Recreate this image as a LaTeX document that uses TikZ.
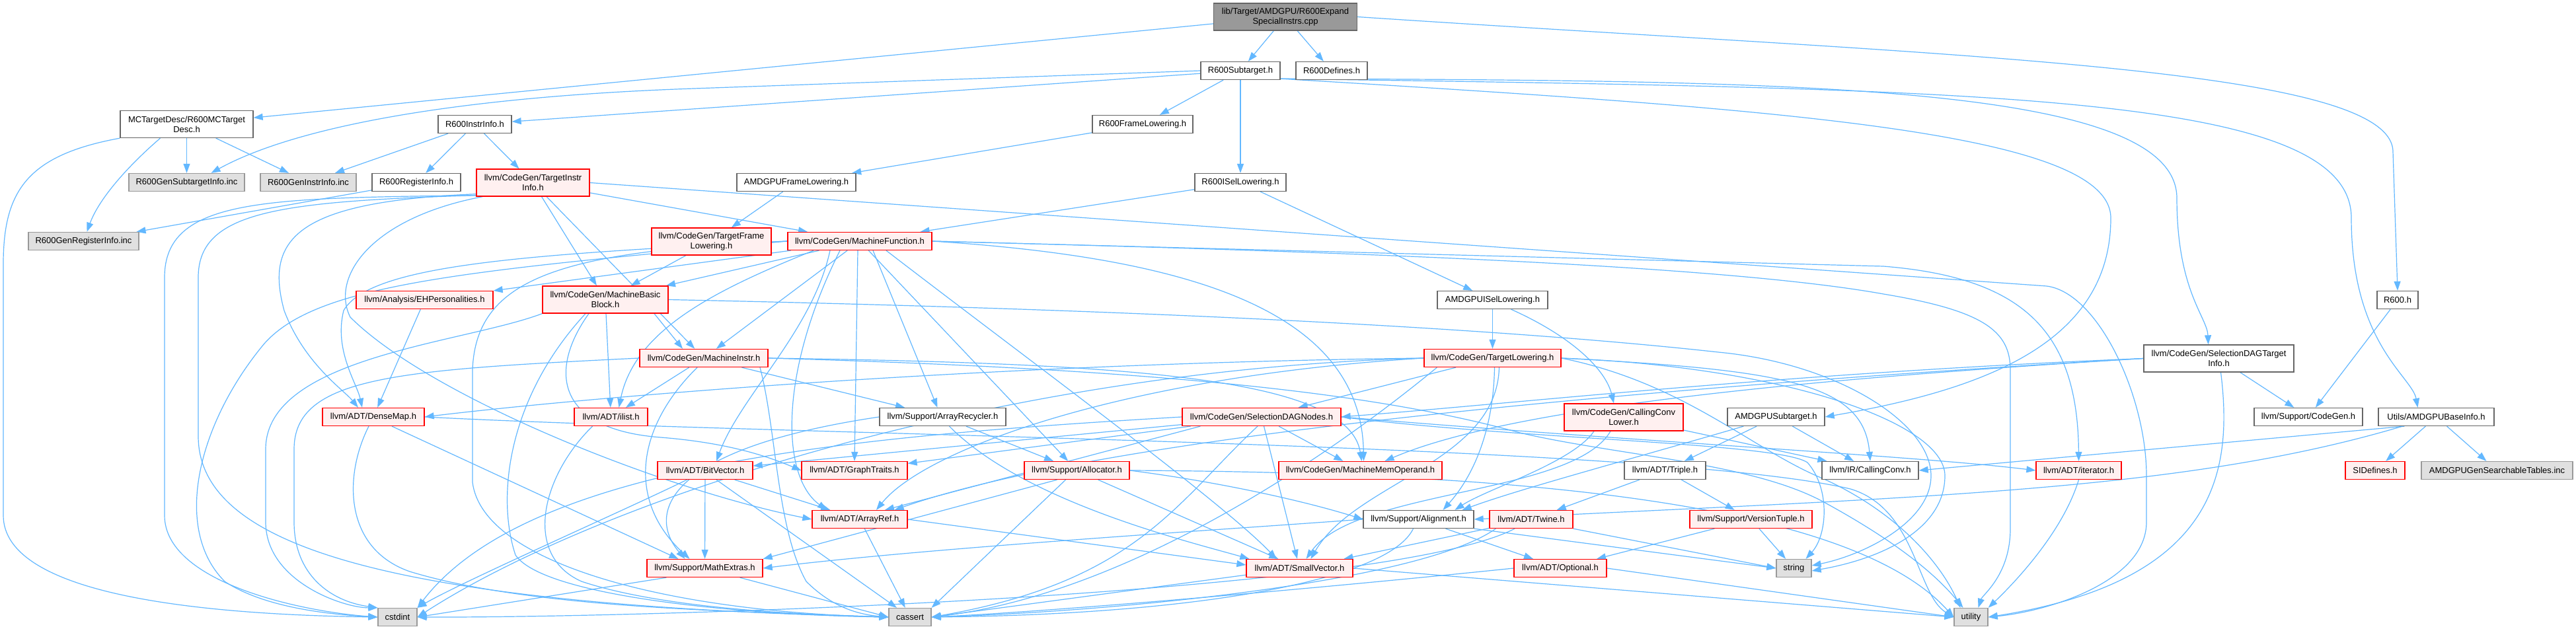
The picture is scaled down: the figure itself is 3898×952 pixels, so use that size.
\documentclass[tikz,border=0pt]{standalone}
\usepackage{fontspec}
\setmainfont{Liberation Sans}
\usetikzlibrary{arrows.meta,calc}
\definecolor{edgeblue}{HTML}{63B8FF}
\definecolor{redfill}{HTML}{FFF0F0}
\definecolor{reddraw}{HTML}{FF0000}
\definecolor{leaffill}{HTML}{E0E0E0}
\definecolor{leafdraw}{HTML}{999999}
\definecolor{whitedraw}{HTML}{666666}
\definecolor{srcfill}{HTML}{999999}
\definecolor{srcdraw}{HTML}{666666}
\newcommand\nodefont{\fontsize{13}{15}\selectfont}
\pgfdeclarelayer{bg}
\pgfsetlayers{bg,main}
\tikzset{
  nbase/.style={draw, line width=1.3pt, minimum height=27pt, inner xsep=2pt, inner ysep=0pt, font=\nodefont, align=center, anchor=center, text=black},
  srcbox/.style={nbase, fill=srcfill, draw=srcdraw},
  wbox/.style={nbase, fill=white, draw=whitedraw},
  rbox/.style={nbase, fill=redfill, draw=reddraw},
  gbox/.style={nbase, fill=leaffill, draw=leafdraw},
  twoline/.style={minimum height=41pt},
  conn/.style={draw=edgeblue, line width=1.2pt, -{Triangle[length=14pt,width=10pt]}}
}
\begin{document}
\begin{tikzpicture}[x=1pt,y=-1pt]
\useasboundingbox (0,0) rectangle (3898,952);
% nodes
\node[srcbox, twoline, minimum width=217pt] (n0) at (1945,25.5) {lib/Target/AMDGPU/R600Expand\\SpecialInstrs.cpp};
\node[wbox, minimum width=120pt] (n1) at (1877,107) {R600Subtarget.h};
\node[wbox, minimum width=108pt] (n2) at (2015,107) {R600Defines.h};
\node[wbox, twoline, minimum width=201pt] (n3) at (282.5,188) {MCTargetDesc/R600MCTarget\\Desc.h};
\node[wbox, minimum width=111pt] (n4) at (718.5,188) {R600InstrInfo.h};
\node[wbox, minimum width=152pt] (n5) at (1729,188) {R600FrameLowering.h};
\node[gbox, minimum width=175pt] (n6) at (282.5,276) {R600GenSubtargetInfo.inc};
\node[gbox, minimum width=145pt] (n7) at (466.5,276) {R600GenInstrInfo.inc};
\node[wbox, minimum width=134pt] (n8) at (630,276) {R600RegisterInfo.h};
\node[rbox, twoline, minimum width=171pt] (n9) at (806.5,276.5) {llvm/CodeGen/TargetInstr\\Info.h};
\node[wbox, minimum width=180pt] (n10) at (1205,276) {AMDGPUFrameLowering.h};
\node[wbox, minimum width=138pt] (n11) at (1877,276) {R600ISelLowering.h};
\node[gbox, minimum width=167pt] (n12) at (126.5,365) {R600GenRegisterInfo.inc};
\node[rbox, twoline, minimum width=181pt] (n13) at (1076.5,365.5) {llvm/CodeGen/TargetFrame\\Lowering.h};
\node[rbox, minimum width=218pt] (n14) at (1301,365) {llvm/CodeGen/MachineFunction.h};
\node[rbox, minimum width=207pt] (n15) at (642.5,454) {llvm/Analysis/EHPersonalities.h};
\node[rbox, twoline, minimum width=190pt] (n16) at (916,453.5) {llvm/CodeGen/MachineBasic\\Block.h};
\node[wbox, minimum width=167pt] (n17) at (2258.5,454) {AMDGPUISelLowering.h};
\node[wbox, minimum width=62pt] (n18) at (3628,454) {R600.h};
\node[wbox, twoline, minimum width=227pt] (n19) at (3357.5,542.5) {llvm/CodeGen/SelectionDAGTarget\\Info.h};
\node[rbox, minimum width=194pt] (n20) at (1065,542) {llvm/CodeGen/MachineInstr.h};
\node[rbox, minimum width=207pt] (n21) at (2258.5,542) {llvm/CodeGen/TargetLowering.h};
\node[rbox, minimum width=154pt] (n22) at (565,631) {llvm/ADT/DenseMap.h};
\node[rbox, minimum width=111pt] (n23) at (924.5,631) {llvm/ADT/ilist.h};
\node[wbox, minimum width=191pt] (n24) at (1426.5,631) {llvm/Support/ArrayRecycler.h};
\node[rbox, minimum width=240pt] (n25) at (1909,631) {llvm/CodeGen/SelectionDAGNodes.h};
\node[rbox, twoline, minimum width=180pt] (n26) at (2457,631.5) {llvm/CodeGen/CallingConv\\Lower.h};
\node[wbox, minimum width=147pt] (n27) at (2687.5,631) {AMDGPUSubtarget.h};
\node[wbox, minimum width=164pt] (n28) at (3493,631) {llvm/Support/CodeGen.h};
\node[wbox, minimum width=175pt] (n29) at (3686.5,631) {Utils/AMDGPUBaseInfo.h};
\node[rbox, minimum width=144pt] (n30) at (1067,712) {llvm/ADT/BitVector.h};
\node[rbox, minimum width=160pt] (n31) at (1293,712) {llvm/ADT/GraphTraits.h};
\node[rbox, minimum width=159pt] (n32) at (1629.5,712) {llvm/Support/Allocator.h};
\node[rbox, minimum width=247pt] (n33) at (2058.5,712) {llvm/CodeGen/MachineMemOperand.h};
\node[wbox, minimum width=123pt] (n34) at (2519.5,712) {llvm/ADT/Triple.h};
\node[wbox, minimum width=146pt] (n35) at (2830,712) {llvm/IR/CallingConv.h};
\node[rbox, minimum width=129pt] (n36) at (3145.5,712) {llvm/ADT/iterator.h};
\node[rbox, minimum width=90pt] (n37) at (3594,712) {SIDefines.h};
\node[gbox, minimum width=229pt] (n38) at (3778.5,712) {AMDGPUGenSearchableTables.inc};
\node[rbox, minimum width=144pt] (n39) at (1301,786) {llvm/ADT/ArrayRef.h};
\node[wbox, minimum width=167pt] (n40) at (2146.5,786) {llvm/Support/Alignment.h};
\node[rbox, minimum width=126pt] (n41) at (2317,786) {llvm/ADT/Twine.h};
\node[rbox, minimum width=185pt] (n42) at (2649.5,786) {llvm/Support/VersionTuple.h};
\node[rbox, minimum width=175pt] (n43) at (1066.5,860) {llvm/Support/MathExtras.h};
\node[rbox, minimum width=161pt] (n44) at (1966.5,860) {llvm/ADT/SmallVector.h};
\node[rbox, minimum width=140pt] (n45) at (2361,860) {llvm/ADT/Optional.h};
\node[gbox, minimum width=53pt] (n46) at (2714.5,860) {string};
\node[gbox, minimum width=59pt] (n47) at (601.5,934) {cstdint};
\node[gbox, minimum width=64pt] (n48) at (1377,934) {cassert};
\node[gbox, minimum width=51pt] (n49) at (2982.5,934) {utility};

\begin{pgfonlayer}{bg}
\fill[white] (0,0) rectangle (3898,952);
% source file
\draw[conn] (n0) -- (n3);
\draw[conn] (n0) -- (n1);
\draw[conn] (n0) -- (n2);
\draw[conn] (n0.east) .. controls (2950,85) and (3621,100) .. (3621,230) -- (n18.north);
% R600Subtarget
\draw[conn] (n1.west) -- (1050,134) .. controls (700,146) and (450,190) .. ($(n6.north)+(37,0)$);
\draw[conn] (n1) -- (n4);
\draw[conn] (n1) -- (n5);
\draw[conn] (n1) -- (n11);
\draw[conn] ($(n1.south east)+(0,-2)$) .. controls (2700,165) and (3194,200) .. (3194,330) .. controls (3194,520) and (3000,590) .. (n27.east);
\draw[conn] ($(n1.south east)+(0,-2)$) .. controls (2700,122) and (3294,125) .. (3294,300) .. controls (3294,440) and (3340,480) .. ($(n19.north)+(-16,0)$);
\draw[conn] ($(n1.south east)+(0,-2)$) .. controls (3000,135) and (3558,140) .. (3558,330) .. controls (3558,520) and (3650,570) .. ($(n29.north)+(-28,0)$);
% MCTargetDesc
\draw[conn] (n3) -- (n6);
\draw[conn] (n3) -- (n7);
\draw[conn] ($(n3.south)+(-40,0)$) .. controls (195,250) and (150,300) .. ($(n12.north)+(5,0)$);
\draw[conn] (n3.south west) .. controls (40,235) and (5,290) .. (5,400) -- (5,780) .. controls (5,900) and (300,930) .. (n47.west);
% R600InstrInfo
\draw[conn] (n4) -- (n7);
\draw[conn] (n4) -- (n8);
\draw[conn] (n4) -- (n9);
\draw[conn] (n8) -- (n12);
% frame lowering / isel lowering
\draw[conn] (n5) -- (n10);
\draw[conn] (n10) -- (n13);
\draw[conn] (n13) -- (n16);
\draw[conn] (n11) -- (n14);
\draw[conn] (n11) -- (n17);
\draw[conn] (n17) -- (n21);
\draw[conn] ($(n17.south)+(28,0)$) .. controls (2380,510) and (2430,560) .. ($(n26.north)+(-15,0)$);
% TargetInstrInfo
\draw[conn] (n9) -- (n16);
\draw[conn] (n9) -- (n20);
\draw[conn] (n9) -- (n14);
\draw[conn] (n9.east) -- (3097,433) .. controls (3175,443) and (3248,600) .. (3248,720) -- (3248,790) .. controls (3248,880) and (3100,925) .. (n49.east);
\draw[conn] ($(n9.south west)+(0,-4)$) .. controls (450,305) and (400,360) .. (430,470) .. controls (460,550) and (520,590) .. ($(n22.north)+(-23,0)$);
\draw[conn] ($(n9.south west)+(0,-2)$) .. controls (400,300) and (249,300) .. (249,420) -- (249,780) .. controls (249,880) and (450,925) .. (n47.west);
\draw[conn] ($(n9.south west)+(0,-2)$) .. controls (420,305) and (300,320) .. (300,420) -- (300,660) .. controls (300,830) and (600,915) .. (n48.west);
\draw[conn] ($(n9.south west)+(10,0)$) .. controls (560,330) and (500,420) .. (530,480) .. controls (650,600) and (1000,740) .. (n39.west);
% MachineFunction
\draw[conn] (n14) -- (n16);
\draw[conn] (n14) -- (n15);
\draw[conn] (n14) -- (n20);
\draw[conn] ($(n14.south)+(-70,0)$) .. controls (1080,440) and (960,500) .. ($(n23.north)+(12,0)$);
\draw[conn] (n14.west) .. controls (800,385) and (560,400) .. (520,470) .. controls (505,530) and (540,580) .. ($(n22.north)+(-17,0)$);
\draw[conn] (n14.west) .. controls (700,410) and (480,430) .. (400,520) .. controls (300,640) and (260,800) .. (340,880) .. controls (400,920) and (500,930) .. (n47.west);
\draw[conn] ($(n14.south)+(-45,0)$) .. controls (1230,500) and (1120,600) .. ($(n30.north)+(17,0)$);
\draw[conn] ($(n14.south)+(-30,0)$) .. controls (1180,560) and (1180,720) .. ($(n39.north)+(-50,0)$);
\draw[conn] ($(n14.south)+(-3,0)$) -- (n31.north);
\draw[conn] ($(n14.south)+(20,0)$) -- ($(n24.north)+(-8,0)$);
\draw[conn] (n14) -- (n32);
\draw[conn] ($(n14.south)+(40,0)$) .. controls (1550,540) and (1850,760) .. ($(n44.north)+(-35,0)$);
\draw[conn] (n14.east) .. controls (1800,390) and (2060,470) .. ($(n33.north)+(5,0)$);
\draw[conn] (n14.east) -- (2850,403) .. controls (3060,420) and (3144,500) .. (n36.north);
\draw[conn] (n14.east) .. controls (2000,380) and (2600,400) .. (2850,445) .. controls (3000,470) and (3042,500) .. (3042,560) -- (3042,800) .. controls (3042,870) and (3000,900) .. ($(n49.north)+(11,0)$);
\draw[conn] (n14.west) .. controls (850,380) and (720,420) .. (715,560) -- (715,730) .. controls (730,850) and (1000,925) .. (n48.west);
% MachineBasicBlock
\draw[conn] ($(n16.south)+(74,0)$) -- ($(n20.north)+(-32,0)$);
\draw[conn] (n16) -- (n23);
\draw[conn] ($(n16.south)+(-25,0)$) .. controls (830,560) and (840,650) .. (1000,662) .. controls (1100,670) and (1160,690) .. (n31.west);
\draw[conn] (n16.south west) .. controls (700,520) and (402,540) .. (402,680) -- (402,790) .. controls (402,880) and (520,920) .. (n47.north west);
\draw[conn] ($(n16.south)+(-30,0)$) .. controls (770,600) and (750,750) .. (780,840) .. controls (820,900) and (1100,930) .. (n48.west);
\draw[conn] (n16.east) .. controls (1800,470) and (2300,500) .. (2600,533) .. controls (2780,550) and (2922,640) .. (2922,720) .. controls (2922,790) and (2820,840) .. ($(n46.east)+(0,-4)$);
% MachineInstr
\draw[conn] (n20) -- (n23);
\draw[conn] (n20) -- (n24);
\draw[conn] (n20.east) .. controls (1700,550) and (2040,570) .. ($(n33.north)+(2,0)$);
\draw[conn] ($(n20.south)+(-10,0)$) .. controls (960,650) and (950,760) .. ($(n43.north)+(-23,0)$);
\draw[conn] (n20.west) .. controls (600,560) and (445,570) .. (445,680) -- (445,790) .. controls (445,870) and (500,910) .. (n47.north west);
\draw[conn] ($(n20.south)+(85,0)$) .. controls (1175,650) and (1175,800) .. (1220,880) .. controls (1260,920) and (1300,930) .. (n48.west);
\draw[conn] (n20.east) .. controls (1800,560) and (2100,600) .. (2300,655) .. controls (2450,690) and (2650,700) .. (2760,760) .. controls (2870,820) and (2930,870) .. ($(n49.north)+(-12,0)$);
% EHPersonalities
\draw[conn] (n15) -- (n22);
% DenseMap
\draw[conn] ($(n22.south)+(28,0)$) -- ($(n43.north)+(-40,0)$);
\draw[conn] ($(n22.south)+(-7,0)$) .. controls (520,720) and (520,830) .. (620,865) .. controls (800,920) and (1100,925) .. (n48.west);
\draw[conn] (n22.east) .. controls (1200,660) and (2500,670) .. (2800,740) .. controls (2900,770) and (2900,900) .. (n49.west);
% ilist
\draw[conn] ($(n23.south)+(-28,0)$) .. controls (820,720) and (790,840) .. (880,880) .. controls (1000,920) and (1200,930) .. (n48.west);
% ArrayRecycler
\draw[conn] (n24) -- (n32);
\draw[conn] ($(n24.south)+(10,0)$) .. controls (1550,760) and (1800,820) .. ($(n44.north west)+(5,0)$);
\draw[conn] (n24.west) .. controls (1000,680) and (980,780) .. ($(n43.north)+(-30,0)$);
% SelectionDAGNodes
\draw[conn] (n25) -- (n30);
\draw[conn] (n25) -- (n31);
\draw[conn] ($(n25.south west)+(28,0)$) -- ($(n39.north)+(38,0)$);
\draw[conn] (n25) -- (n44);
\draw[conn] (n25) -- (n33);
\draw[conn] ($(n25.south)+(-6,0)$) .. controls (1780,760) and (1720,880) .. (n48.east);
\draw[conn] (n25.west) .. controls (1300,660) and (800,700) .. (n47.north east);
\draw[conn] (n25.east) .. controls (2500,670) and (2900,690) .. (n36.west);
\draw[conn] (n25.east) .. controls (2300,665) and (2690,670) .. (2735,700) .. controls (2770,740) and (2765,810) .. ($(n46.north)+(18,0)$);
% CallingConvLower
\draw[conn] (n26) -- (n35);
\draw[conn] ($(n26.south)+(-45,0)$) .. controls (2380,700) and (2250,740) .. ($(n40.north)+(55,0)$);
\draw[conn] ($(n26.south)+(-20,0)$) .. controls (2380,750) and (2050,740) .. ($(n44.north)+(10,0)$);
% AMDGPUSubtarget
\draw[conn] (n27) -- (n34);
\draw[conn] (n27) -- (n35);
\draw[conn] ($(n27.south west)+(25,0)$) .. controls (2450,700) and (2300,740) .. ($(n40.north east)+(-18,0)$);
% TargetLowering
\draw[conn] (n21) -- (n25);
\draw[conn] ($(n21.south)+(3,0)$) .. controls (2260,650) and (2230,720) .. ($(n40.north)+(37,0)$);
\draw[conn] ($(n21.south)+(10,0)$) .. controls (2265,700) and (2050,730) .. ($(n44.north)+(17,0)$);
\draw[conn] (n21.west) .. controls (1500,550) and (900,600) .. (n22.east);
\draw[conn] (n21.west) .. controls (1700,570) and (1400,680) .. ($(n39.north)+(25,0)$);
\draw[conn] (n21.west) .. controls (1500,560) and (900,760) .. (n47.east);
\draw[conn] ($(n21.south west)+(20,0)$) .. controls (2000,700) and (1700,900) .. (n48.east);
\draw[conn] (n21.east) .. controls (2700,560) and (2820,580) .. (n35.north);
\draw[conn] (n21.east) .. controls (2700,555) and (2943,640) .. (2943,720) .. controls (2943,800) and (2850,845) .. ($(n46.east)+(0,4)$);
\draw[conn] (n21.east) .. controls (2550,580) and (2650,680) .. (2760,725) .. controls (2880,780) and (2940,860) .. ($(n49.north)+(-16,0)$);
% SelectionDAGTargetInfo
\draw[conn] (n19.west) .. controls (2700,565) and (2300,610) .. (n25.east);
\draw[conn] (n19.west) .. controls (2800,570) and (2300,610) .. ($(n33.north)+(37,0)$);
\draw[conn] (n19.west) .. controls (2600,580) and (1700,650) .. ($(n39.north east)+(-20,0)$);
\draw[conn] (n19) -- (n28);
\draw[conn] ($(n19.south)+(3,0)$) .. controls (3380,720) and (3350,880) .. (n49.east);
% R600.h
\draw[conn] (n18) -- (n28);
% AMDGPUBaseInfo
\draw[conn] (n29) -- (n37);
\draw[conn] (n29) -- (n38);
\draw[conn] ($(n29.south west)+(40,0)$) -- (n35.east);
\draw[conn] ($(n29.south west)+(37,0)$) .. controls (3300,745) and (2900,752) .. (n40.east);
% BitVector
\draw[conn] (n30) -- (n39);
\draw[conn] (n30) -- (n43);
\draw[conn] ($(n30.south)+(17,0)$) -- ($(n48.north)+(-20,0)$);
\draw[conn] ($(n30.south west)+(45,0)$) .. controls (950,770) and (700,880) .. (n47.north east);
% Allocator
\draw[conn] ($(n32.south)+(-30,0)$) -- (n43.north east);
\draw[conn] ($(n32.south)+(-17,0)$) -- (n48.north east);
\draw[conn] (n32) -- (n44);
\draw[conn] (n32.east) .. controls (1850,730) and (1980,760) .. (n40.west);
\draw[conn] (n32.east) .. controls (2300,715) and (2800,760) .. (n49.west);
% Triple
\draw[conn] (n34) -- (n41);
\draw[conn] (n34) -- (n42);
% iterator
\draw[conn] (n36.south) .. controls (3120,810) and (3040,890) .. (n49.north east);
% ArrayRef
\draw[conn] (n39) -- (n48);
\draw[conn] (n39.east) -- ($(n44.west)+(0,-5)$);
% Alignment
\draw[conn] (n40.west) .. controls (1800,805) and (1400,830) .. (n43.east);
\draw[conn] (n40) -- (n45);
\draw[conn] ($(n40.south)+(-8,0)$) .. controls (2100,880) and (1800,930) .. (n48.east);
\draw[conn] (n40.south east) -- (n46.west);
% Twine
\draw[conn] (n41) -- (n44);
\draw[conn] ($(n41.south)+(-25,0)$) .. controls (2100,900) and (1000,935) .. (n47.east);
\draw[conn] ($(n41.south west)+(10,0)$) .. controls (2150,880) and (1700,925) .. (n48.east);
\draw[conn] (n41.south east) -- (n46.west);
% VersionTuple
\draw[conn] (n42) -- (n45);
\draw[conn] (n42) -- (n46);
% MathExtras
\draw[conn] ($(n43.south east)+(-35,0)$) -- (n48.west);
\draw[conn] ($(n43.south west)+(30,0)$) -- (n47.east);
% SmallVector
\draw[conn] ($(n44.south west)+(0,-4)$) -- (n48.east);
\draw[conn] (n44.east) -- (n49.west);
% Optional
\draw[conn] (n45.west) .. controls (2000,890) and (1600,925) .. (n48.east);
\draw[conn] (n45.east) -- (n49.west);
\end{pgfonlayer}
\end{tikzpicture}
\end{document}
